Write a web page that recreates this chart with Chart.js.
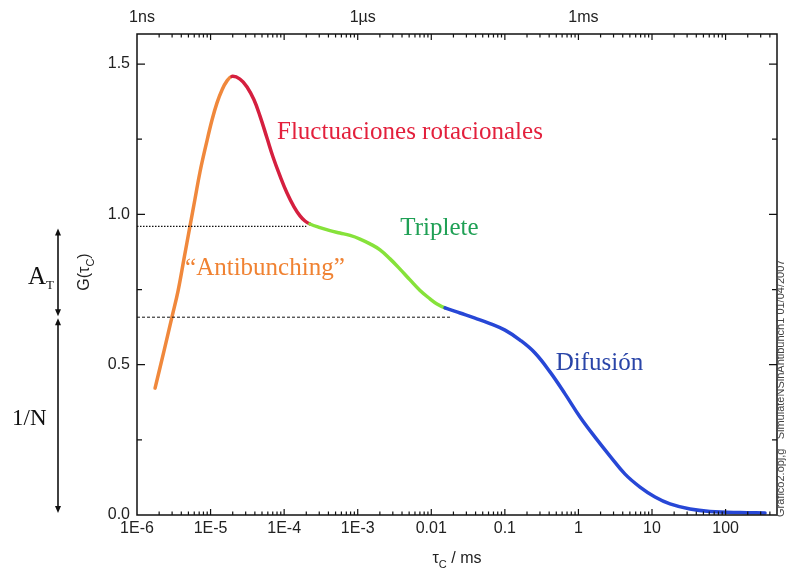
<!DOCTYPE html>
<html>
<head>
<meta charset="utf-8">
<script src="https://cdn.jsdelivr.net/npm/chart.js@4.4.1/dist/chart.umd.min.js"></script>
<style>
  html, body { margin: 0; padding: 0; background: #fff; }
</style>
</head>
<body>
<canvas id="fcs" width="787" height="572"></canvas>
<script>
// tau (ms) and G(tau), one pair of arrays per coloured region
const antibunchTau = [1.76e-6, 2.33e-6, 2.99e-6, 3.61e-6, 4.35e-6, 5.25e-6, 6.14e-6, 7.18e-6,
                      8.67e-6, 1.046e-5, 1.223e-5, 1.43e-5, 1.672e-5, 1.956e-5];
const antibunchG   = [0.422, 0.546, 0.659, 0.745, 0.852, 0.961, 1.051, 1.141,
                      1.231, 1.314, 1.371, 1.414, 1.444, 1.459];
const rotTau = [1.956e-5, 2.51e-5, 3.13e-5, 3.89e-5, 4.70e-5, 5.85e-5, 7.06e-5, 8.78e-5,
                1.094e-4, 1.362e-4, 1.643e-4, 1.92e-4, 2.246e-4];
const rotG   = [1.459, 1.450, 1.424, 1.381, 1.327, 1.254, 1.191, 1.128,
                1.071, 1.025, 0.995, 0.978, 0.968];
const tripTau = [2.246e-4, 3.07e-4, 4.20e-4, 5.74e-4, 7.86e-4, 1.075e-3, 1.469e-3, 2.01e-3,
                 2.75e-3, 3.76e-3, 5.14e-3, 7.03e-3, 9.61e-3, 0.01196, 0.01537];
const tripG   = [0.968, 0.956, 0.946, 0.938, 0.930, 0.918, 0.902, 0.882,
                 0.852, 0.818, 0.782, 0.747, 0.719, 0.702, 0.689];
const diffTau = [0.01537, 0.02457, 0.0393, 0.0628, 0.1005, 0.1607, 0.2569, 0.4108, 0.657, 1.051,
                 1.68, 2.687, 4.30, 6.87, 10.99, 17.57, 32.9, 61.4, 157, 344];
const diffG   = [0.689, 0.672, 0.655, 0.637, 0.615, 0.582, 0.539, 0.476, 0.403, 0.326,
                 0.259, 0.196, 0.136, 0.093, 0.060, 0.037, 0.020, 0.012, 0.008, 0.007];

// horizontal guide levels
const tripLevelTau = [1e-6, 2.0e-4];
const tripLevelG   = [0.96, 0.96];
const diffLevelTau = [1e-6, 0.019];
const diffLevelG   = [0.658, 0.658];

// axis ticks
const xTickValues = [1e-6, 1e-5, 1e-4, 1e-3, 0.01, 0.1, 1, 10, 100];
const xTickLabels = ['1E-6', '1E-5', '1E-4', '1E-3', '0.01', '0.1', '1', '10', '100'];
const topTickValues = [1e-6, 1e-3, 1];
const topTickLabels = ['1ns', '1\u00b5s', '1ms'];
const yTickValues = [0, 0.5, 1.0, 1.5];
const yTickLabels = ['0.0', '0.5', '1.0', '1.5'];

const regionNames = ['\u201cAntibunching\u201d', 'Fluctuaciones rotacionales', 'Triplete', 'Difusi\u00f3n'];
const regionColors = ['#f0883c', '#d51f3f', '#86e23a', '#2747d6'];
const textColors = ['#f08232', '#e3203c', '#1fa055', '#2a45a8'];
// where each region name sits (tau, G)
const nameTau = [4.5e-6, 8.0e-5, 3.8e-3, 0.49];
const nameG   = [0.82, 1.274, 0.953, 0.504];

// join the regions into one smooth line, remember where each region starts
let regions = [[antibunchTau, antibunchG], [rotTau, rotG], [tripTau, tripG], [diffTau, diffG]];
let curve = [];
let regionStart = [];
regions.forEach((r, k) => {
    regionStart.push(Math.max(curve.length - 1, 0));
    r[0].forEach((t, i) => {
        if (k > 0 && i == 0) return; // shared junction point
        curve.push({x: t, y: r[1][i]});
    });
});

function regionOf(idx) {
    let k = 0;
    for (let i = 0; i < regionStart.length; i++) {
        if (idx >= regionStart[i]) k = i;
    }
    return k;
}

function toPts(xs, ys) {
    return xs.map((v, i) => ({x: v, y: ys[i]}));
}

function sameVal(a, b) {
    return Math.abs(Math.log10(a) - Math.log10(b)) < 1e-6;
}

function logTicks(scale) {
    let ticks = [];
    for (let e = -6; e <= 2; e++) {
        for (let m = 1; m <= 9; m++) {
            let v = m * Math.pow(10, e);
            if (v <= scale.max * 1.0001) ticks.push({value: v, major: m == 1});
        }
    }
    scale.ticks = ticks;
}

const tickFont = {family: "'Liberation Sans', Arial, sans-serif", size: 16};
const serif = "'Liberation Serif', 'Times New Roman', serif";

// frame, inward ticks, titles and labels
const decorPlugin = {
    id: 'decor',
    afterDatasetsDraw(chart) {
        const ctx = chart.ctx;
        const a = chart.chartArea;
        const xs = chart.scales.x;
        const ys = chart.scales.y;
        ctx.save();

        ctx.strokeStyle = '#111';
        ctx.lineWidth = 1.5;
        ctx.strokeRect(a.left, a.top, a.right - a.left, a.bottom - a.top);

        ctx.lineWidth = 1.2;
        ctx.beginPath();
        xs.ticks.forEach(t => {
            let px = xs.getPixelForValue(t.value);
            if (px < a.left + 1 || px > a.right - 1) return;
            let len = t.major ? 6 : 3.5;
            ctx.moveTo(px, a.bottom); ctx.lineTo(px, a.bottom - len);
            ctx.moveTo(px, a.top); ctx.lineTo(px, a.top + len);
        });
        ys.ticks.forEach(t => {
            let py = ys.getPixelForValue(t.value);
            if (py < a.top + 1 || py > a.bottom - 1) return;
            let major = Math.abs(t.value * 2 - Math.round(t.value * 2)) < 1e-6;
            let len = major ? 8 : 5;
            ctx.moveTo(a.left, py); ctx.lineTo(a.left + len, py);
            ctx.moveTo(a.right, py); ctx.lineTo(a.right - len, py);
        });
        ctx.stroke();

        // region names
        ctx.font = "25px " + serif;
        ctx.textAlign = 'left';
        ctx.textBaseline = 'middle';
        regionNames.forEach((n, i) => {
            ctx.fillStyle = textColors[i];
            ctx.fillText(n, xs.getPixelForValue(nameTau[i]), ys.getPixelForValue(nameG[i]));
        });

        // axis titles with subscript C
        ctx.fillStyle = '#222';
        ctx.save();
        ctx.translate(85, 272);
        ctx.rotate(-Math.PI / 2);
        drawSub(ctx, 'G(\u03c4', 'C', ')', 0, 0, 16);
        ctx.restore();
        drawSub(ctx, '\u03c4', 'C', ' / ms', (a.left + a.right) / 2, 559, 16);

        // A_T and 1/N brackets on the left
        let yT = ys.getPixelForValue(tripLevelG[0]) + 2;
        let yD = ys.getPixelForValue(diffLevelG[0]);
        let y0 = ys.getPixelForValue(0) - 2;
        let ax = 58;
        ctx.strokeStyle = '#111';
        ctx.fillStyle = '#111';
        ctx.lineWidth = 1.6;
        arrow(ctx, ax, yT, yD - 1);
        arrow(ctx, ax, yD + 1, y0);
        ctx.textAlign = 'left';
        ctx.textBaseline = 'alphabetic';
        ctx.font = "25px " + serif;
        ctx.fillText('A', 28, 284);
        ctx.font = "13px " + serif;
        ctx.fillText('T', 46, 289);
        ctx.font = "23px " + serif;
        ctx.fillText('1/N', 12, 425);

        // file stamp on the right edge
        ctx.save();
        ctx.translate(786, a.bottom + 2);
        ctx.rotate(-Math.PI / 2);
        ctx.font = "11px 'Liberation Sans', Arial, sans-serif";
        ctx.fillStyle = '#444';
        ctx.textAlign = 'left';
        ctx.textBaseline = 'bottom';
        ctx.fillText('Grafico2.opj,g   SimulateNSinAntibunch1 01/04/2007', 0, 0);
        ctx.restore();

        ctx.restore();
    }
};

function drawSub(ctx, main, sub, tail, cx, cy, size) {
    let big = size + "px 'Liberation Sans', Arial, sans-serif";
    let small = Math.round(size * 0.7) + "px 'Liberation Sans', Arial, sans-serif";
    ctx.font = big; let w1 = ctx.measureText(main).width; let w3 = ctx.measureText(tail).width;
    ctx.font = small; let w2 = ctx.measureText(sub).width;
    let x = cx - (w1 + w2 + w3) / 2;
    ctx.textAlign = 'left';
    ctx.textBaseline = 'middle';
    ctx.font = big; ctx.fillText(main, x, cy);
    ctx.font = small; ctx.fillText(sub, x + w1, cy + size * 0.35);
    ctx.font = big; ctx.fillText(tail, x + w1 + w2, cy);
}

function arrow(ctx, x, yTop, yBot) {
    ctx.beginPath();
    ctx.moveTo(x, yTop + 4); ctx.lineTo(x, yBot - 4);
    ctx.stroke();
    ctx.beginPath();
    ctx.moveTo(x, yTop); ctx.lineTo(x - 3, yTop + 7); ctx.lineTo(x + 3, yTop + 7); ctx.closePath();
    ctx.moveTo(x, yBot); ctx.lineTo(x - 3, yBot - 7); ctx.lineTo(x + 3, yBot - 7); ctx.closePath();
    ctx.fill();
}

new Chart(document.getElementById('fcs'), {
    type: 'line',
    data: {
        datasets: [
            {
                data: toPts(tripLevelTau, tripLevelG),
                borderColor: '#111', borderWidth: 1.2, borderDash: [1.5, 1.5],
                pointRadius: 0, fill: false
            },
            {
                data: toPts(diffLevelTau, diffLevelG),
                borderColor: '#111', borderWidth: 1, borderDash: [3, 2],
                pointRadius: 0, fill: false
            },
            {
                data: curve,
                borderWidth: 3.5,
                borderColor: regionColors[0],
                tension: 0.4,
                pointRadius: 0, fill: false,
                borderCapStyle: 'round',
                segment: {
                    borderColor: c => regionColors[regionOf(c.p0DataIndex)]
                }
            }
        ]
    },
    options: {
        responsive: false,
        animation: false,
        devicePixelRatio: 1,
        layout: {padding: {left: 77, right: 10, top: 0, bottom: 0}},
        plugins: {legend: {display: false}, tooltip: {enabled: false}},
        scales: {
            x: {
                type: 'logarithmic', position: 'bottom', min: 1e-6, max: 500,
                grid: {display: false, drawTicks: false}, border: {display: false},
                afterBuildTicks: logTicks,
                afterFit: s => { s.height = 57; },
                ticks: {
                    autoSkip: false, maxRotation: 0, padding: 4, color: '#222', font: tickFont,
                    callback: v => {
                        let i = xTickValues.findIndex(t => sameVal(t, v));
                        return i >= 0 ? xTickLabels[i] : '';
                    }
                }
            },
            x2: {
                type: 'logarithmic', position: 'top', min: 1e-6, max: 500,
                grid: {display: false, drawTicks: false}, border: {display: false},
                afterBuildTicks: logTicks,
                afterFit: s => { s.height = 34; },
                ticks: {
                    autoSkip: false, maxRotation: 0, padding: 7, labelOffset: 5, color: '#222', font: tickFont,
                    callback: v => {
                        let i = topTickValues.findIndex(t => sameVal(t, v));
                        return i >= 0 ? topTickLabels[i] : '';
                    }
                }
            },
            y: {
                min: 0, max: 1.6,
                grid: {display: false, drawTicks: false}, border: {display: false},
                afterBuildTicks: s => {
                    let t = [];
                    for (let v = 0; v <= 1.5001; v += 0.25) t.push({value: Math.round(v * 100) / 100});
                    s.ticks = t;
                },
                afterFit: s => { s.width = 60; },
                ticks: {
                    padding: 7, color: '#222', font: tickFont,
                    callback: v => {
                        let i = yTickValues.findIndex(t => Math.abs(t - v) < 1e-6);
                        return i >= 0 ? yTickLabels[i] : '';
                    }
                }
            }
        }
    },
    plugins: [decorPlugin]
});
</script>
</body>
</html>
